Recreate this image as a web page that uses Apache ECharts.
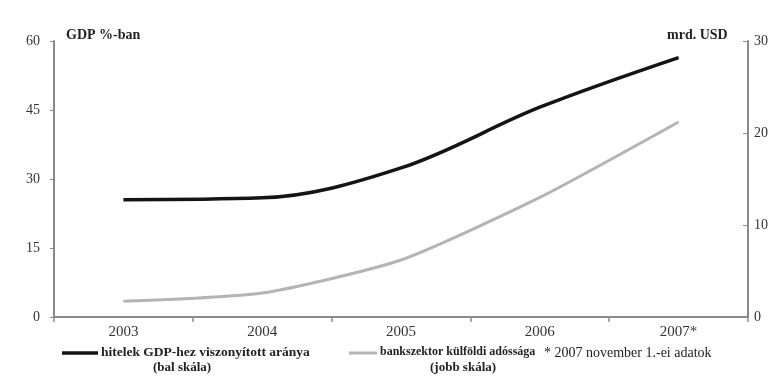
<!DOCTYPE html>
<html>
<head>
<meta charset="utf-8">
<script src="https://cdn.jsdelivr.net/npm/echarts@6/dist/echarts.min.js"></script>
<style>
  html, body { margin: 0; padding: 0; background: #fff; }
  #chart { width: 775px; height: 381px; }
</style>
</head>
<body>
<div id="chart"></div>
<script>
// Years on the category axis
var years = ['2003', '2004', '2005', '2006', '2007*'];
// Loans as a share of GDP (%, left scale)
var loansToGdp = [25.5, 25.9, 32.4, 45.6, 56.4];
// Foreign debt of the banking sector (bn USD, right scale)
var bankForeignDebt = [1.7, 2.6, 6.2, 13.0, 21.2];
// Tick settings for the two value axes
var leftTicks = { min: 0, max: 60, interval: 15 };
var rightTicks = { min: 0, max: 30, interval: 10 };

var serif = '"Liberation Serif", "DejaVu Serif", serif';
var axisGray = '#8a8a8a';

var chart = echarts.init(document.getElementById('chart'));
chart.setOption({
  animation: false,
  backgroundColor: '#ffffff',
  grid: { left: 54, right: 27, top: 41, bottom: 64 },
  xAxis: {
    type: 'category',
    data: years,
    boundaryGap: true,
    axisLine: { lineStyle: { color: axisGray, width: 2 } },
    axisTick: { show: true, length: 5, lineStyle: { color: axisGray, width: 1.5 } },
    axisLabel: { color: '#333', fontFamily: serif, fontSize: 15, margin: 8 }
  },
  yAxis: [
    {
      type: 'value',
      min: leftTicks.min, max: leftTicks.max, interval: leftTicks.interval,
      position: 'left',
      splitLine: { show: false },
      axisLine: { show: true, lineStyle: { color: axisGray, width: 2 } },
      axisTick: { show: true, length: 4, lineStyle: { color: axisGray } },
      axisLabel: { color: '#333', fontFamily: serif, fontSize: 14, margin: 14 }
    },
    {
      type: 'value',
      min: rightTicks.min, max: rightTicks.max, interval: rightTicks.interval,
      position: 'right',
      splitLine: { show: false },
      axisLine: { show: true, lineStyle: { color: axisGray, width: 2 } },
      axisTick: { show: true, inside: true, length: 5, lineStyle: { color: axisGray } },
      axisLabel: { color: '#333', fontFamily: serif, fontSize: 14, margin: 6 }
    }
  ],
  series: [
    {
      name: 'hitelek GDP-hez viszonyított aránya',
      type: 'line',
      yAxisIndex: 0,
      data: loansToGdp,
      smooth: 0.35,
      symbol: 'none',
      lineStyle: { color: '#141414', width: 3.5 }
    },
    {
      name: 'bankszektor külföldi adóssága',
      type: 'line',
      yAxisIndex: 1,
      data: bankForeignDebt,
      smooth: 0.2,
      symbol: 'none',
      lineStyle: { color: '#b4b4b4', width: 3 }
    }
  ],
  graphic: [
    { type: 'text', left: 66, top: 28,
      style: { text: 'GDP %-ban', font: 'bold 14px ' + serif, fill: '#222' } },
    { type: 'text', left: 667, top: 28,
      style: { text: 'mrd. USD', font: 'bold 14px ' + serif, fill: '#222' } },
    // legend: first item
    { type: 'line', shape: { x1: 62, y1: 353, x2: 98, y2: 353 },
      style: { stroke: '#141414', lineWidth: 3.5 } },
    { type: 'text', left: 101, top: 346,
      style: { text: 'hitelek GDP-hez viszonyított aránya', font: 'bold 13.5px ' + serif, fill: '#222' } },
    { type: 'text', left: 153, top: 361,
      style: { text: '(bal skála)', font: 'bold 13px ' + serif, fill: '#222' } },
    // legend: second item
    { type: 'line', shape: { x1: 349, y1: 353, x2: 377, y2: 353 },
      style: { stroke: '#b4b4b4', lineWidth: 3 } },
    { type: 'text', left: 380, top: 346,
      style: { text: 'bankszektor külföldi adóssága', font: 'bold 12px ' + serif, fill: '#222' } },
    { type: 'text', left: 430, top: 361,
      style: { text: '(jobb skála)', font: 'bold 13px ' + serif, fill: '#222' } },
    // footnote
    { type: 'text', left: 544, top: 346,
      style: { text: '* 2007 november 1.-ei adatok', font: '14px ' + serif, fill: '#222' } }
  ]
});
</script>
</body>
</html>
